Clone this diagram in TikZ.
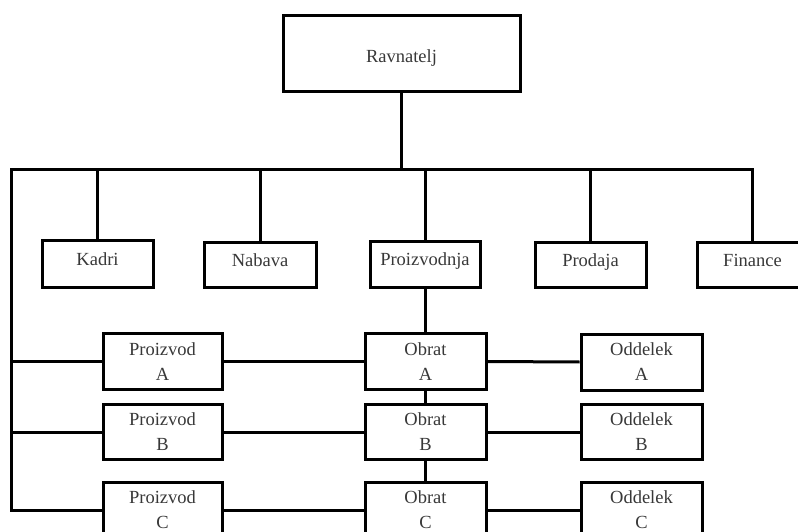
\documentclass[tikz,border=0pt]{standalone}
\usepackage{fontspec}
\newfontfamily\boxfont{Liberation Serif}
\begin{document}
\begin{tikzpicture}[x=1pt,y=-1pt,
  box/.style={draw=black,line width=3pt,rectangle,inner sep=0pt,
    text=black!78,font=\boxfont\fontsize{18.5}{25}\selectfont,align=center},
  dept/.style={box,text height=13pt,text depth=10pt},
  head/.style={box,text height=18pt,text depth=0pt},
  link/.style={draw=black,line width=3pt}]
\useasboundingbox (0,0) rectangle (798,532);

% top level
\node[head,minimum width=237,minimum height=76] (rav) at (401.5,54) {Ravnatelj};

% departments
\node[dept,minimum width=111,minimum height=47] (kadri) at (97.5,263.5) {Kadri};
\node[dept,minimum width=112,minimum height=45] (nabava) at (260,264.5) {Nabava};
\node[dept,minimum width=110,minimum height=46] (proiz) at (425,264) {Proizvodnja};
\node[dept,minimum width=111,minimum height=45] (prodaja) at (590.5,264.5) {Prodaja};
\node[dept,minimum width=111,minimum height=45] (fin) at (752.5,264.5) {Finance};

% products, plants, sections
\node[box,minimum width=119,minimum height=56] (pa) at (162.5,361.5) {Proizvod\\A};
\node[box,minimum width=119,minimum height=55] (pb) at (162.5,432) {Proizvod\\B};
\node[box,minimum width=119,minimum height=56] (pc) at (162.5,510) {Proizvod\\C};
\node[box,minimum width=121,minimum height=56] (oa) at (425.5,361.5) {Obrat\\A};
\node[box,minimum width=121,minimum height=55] (ob) at (425.5,432) {Obrat\\B};
\node[box,minimum width=121,minimum height=56] (oc) at (425.5,510) {Obrat\\C};
\node[box,minimum width=121,minimum height=56] (da) at (641.5,362) {Oddelek\\A};
\node[box,minimum width=121,minimum height=55] (db) at (641.5,432) {Oddelek\\B};
\node[box,minimum width=121,minimum height=56] (dc) at (641.5,510) {Oddelek\\C};

% bus and trunk
\coordinate (busL) at (11,170);
\coordinate (busR) at (752,170);
\coordinate (busC) at (rav.south |- busL);
\draw[link] (rav.south) -- (busC);
\draw[link,line join=miter] (pc.west) -- (busL |- pc.west) -- (busL) -- (busR) -- (fin.north -| busR);
\draw[link] (kadri.north |- busL) -- (kadri.north);
\draw[link] (nabava.north |- busL) -- (nabava.north);
\draw[link] (proiz.north |- busL) -- (proiz.north);
\draw[link] (prodaja.north |- busL) -- (prodaja.north);
\draw[link] (busL |- pa.west) -- (pa.west);
\draw[link] (busL |- pb.west) -- (pb.west);

% production chain
\draw[link] (proiz.south) -- (oa.north -| proiz.south);
\draw[link] (oa.south) -- (ob.north);
\draw[link] (ob.south) -- (oc.north);
\draw[link] (pa.east) -- (oa.west);
\draw[link] (pb.east) -- (ob.west);
\draw[link] (pc.east) -- (oc.west);
\draw[link] (oa.east) -- (da.west);
\draw[link] (ob.east) -- (db.west);
\draw[link] (oc.east) -- (dc.west);
\end{tikzpicture}
\end{document}
